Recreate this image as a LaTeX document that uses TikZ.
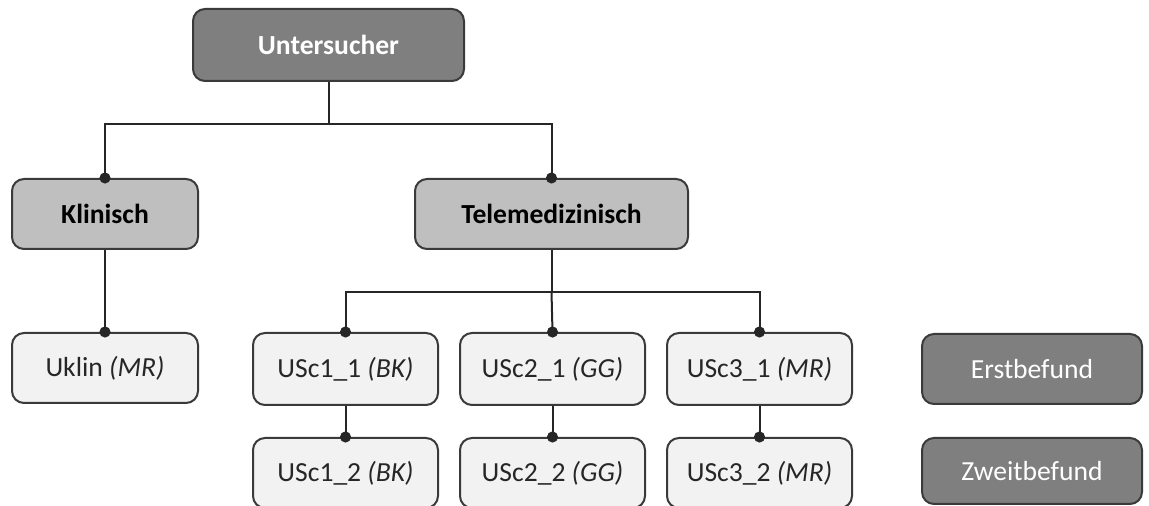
\documentclass[tikz,border=0pt]{standalone}
\usepackage{fontspec}
\setmainfont{Carlito}
\usepackage{tikz}
\usetikzlibrary{arrows, arrows.meta}

\definecolor{dunkel}{HTML}{7F7F7F}
\definecolor{mittel}{HTML}{BFBFBF}
\definecolor{hell}{HTML}{F2F2F2}
\definecolor{rand}{HTML}{3A3A3A}

\tikzset{
    box/.style={draw=rand, line width=1pt, rounded corners=6pt, align=center,
        inner sep=0pt, font=\fontsize{13.8}{16}\selectfont},
    top/.style={box, fill=dunkel, text=white, font=\fontsize{13.8}{16}\selectfont\bfseries},
    group/.style={box, fill=mittel, text=black, font=\fontsize{13.8}{16}\selectfont\bfseries},
    leaf/.style={box, fill=hell, text=black!85},
    legend/.style={box, fill=dunkel, text=white, minimum width=110pt, minimum height=35pt},
    tree/.style={draw=black!85, line width=1pt},
    dot/.style={tree, -{Circle[length=5.5pt]}, shorten >=-2.75pt}
}

\begin{document}
\begin{tikzpicture}[x=0.5pt, y=-0.5pt]
\useasboundingbox (0,0) rectangle (1149,506);

\node[top, minimum width=135.5pt, minimum height=36pt] (Untersucher) at (328.5,45) {Untersucher};

\node[group, minimum width=93pt, minimum height=35pt] (Klinisch) at (105,214) {Klinisch};
\node[group, minimum width=136.5pt, minimum height=35pt] (Telemed) at (551.5,214) {Telemedizinisch};

\node[leaf, minimum width=93pt, minimum height=35pt] (Uklin) at (105,368) {Uklin \textit{(MR)}};

\node[leaf, minimum width=92.5pt, minimum height=36pt] (USc11) at (345.5,369) {USc1\_1 \textit{(BK)}};
\node[leaf, minimum width=92.5pt, minimum height=36pt] (USc21) at (552.5,369) {USc2\_1 \textit{(GG)}};
\node[leaf, minimum width=92.5pt, minimum height=36pt] (USc31) at (759.5,369) {USc3\_1 \textit{(MR)}};

\node[leaf, minimum width=92.5pt, minimum height=35pt] (USc12) at (345.5,473) {USc1\_2 \textit{(BK)}};
\node[leaf, minimum width=92.5pt, minimum height=35pt] (USc22) at (552.5,473) {USc2\_2 \textit{(GG)}};
\node[leaf, minimum width=92.5pt, minimum height=35pt] (USc32) at (759.5,473) {USc3\_2 \textit{(MR)}};

\node[legend] (Erst) at (1032,369) {Erstbefund};
\node[legend, minimum height=33pt] (Zweit) at (1032,471) {Zweitbefund};

% Verbindungen
\coordinate (J1) at (328.5,124);
\coordinate (J2) at (551.5,292);

\draw[tree] (Untersucher.south) -- (J1);
\draw[dot] (J1) -| (Klinisch.north);
\draw[dot] (J1) -| (Telemed.north);

\draw[dot] (Klinisch.south) -- (Uklin.north);

\draw[tree] (Telemed.south) -- (J2);
\draw[dot] (J2) -| (USc11.north);
\draw[dot] (J2) -- (USc21.north);
\draw[dot] (J2) -| (USc31.north);

\draw[dot] (USc11.south) -- (USc12.north);
\draw[dot] (USc21.south) -- (USc22.north);
\draw[dot] (USc31.south) -- (USc32.north);

\end{tikzpicture}
\end{document}
